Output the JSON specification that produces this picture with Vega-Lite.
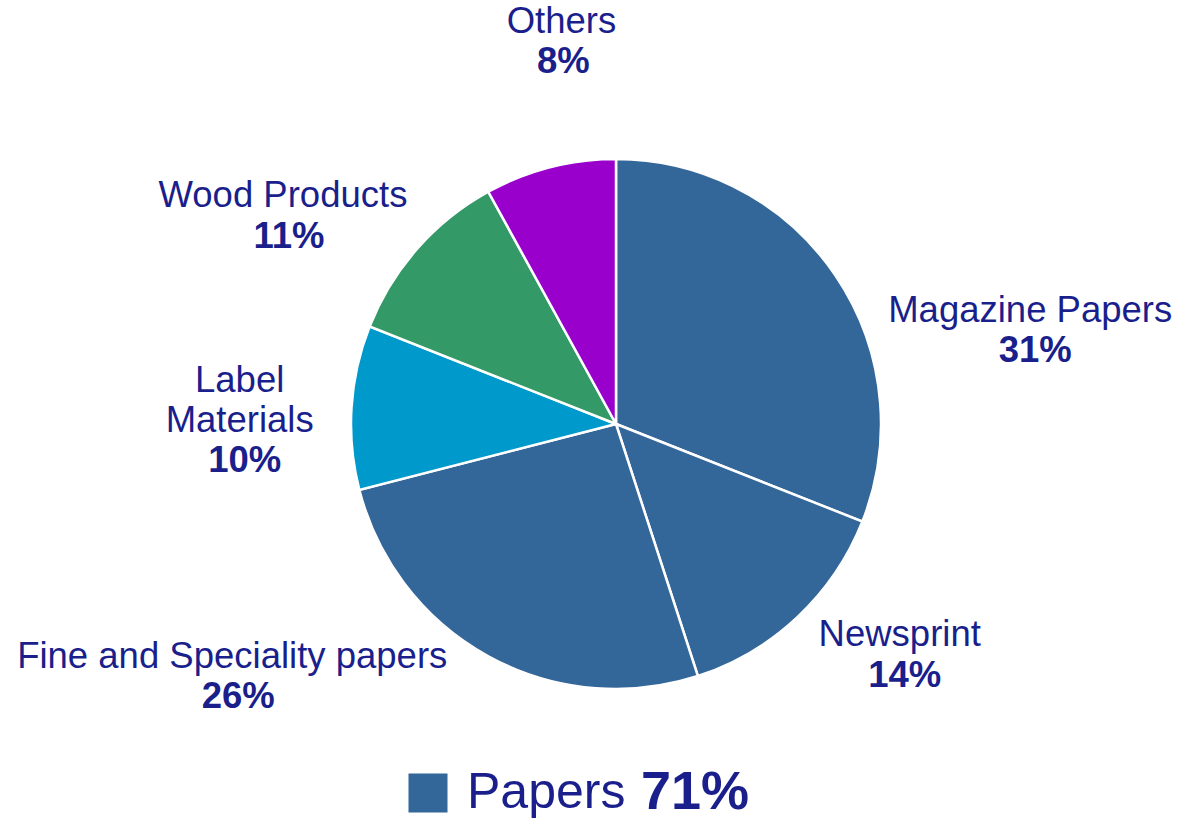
{
  "$schema": "https://vega.github.io/schema/vega-lite/v6.json",
  "width": 1150,
  "height": 794,
  "padding": {"left": 41, "top": 27, "right": 0, "bottom": 0},
  "autosize": {"type": "none"},
  "background": "white",
  "data": {
    "values": [
      {"cat": "Magazine Papers", "group": "Papers", "share": 0.31, "rank": 1},
      {"cat": "Newsprint", "group": "Papers", "share": 0.14, "rank": 2},
      {"cat": "Fine and Speciality papers", "group": "Papers", "share": 0.26, "rank": 3},
      {"cat": "Label Materials", "group": "Label Materials", "share": 0.10, "rank": 4},
      {"cat": "Wood Products", "group": "Wood Products", "share": 0.11, "rank": 5},
      {"cat": "Others", "group": "Others", "share": 0.08, "rank": 6}
    ]
  },
  "encoding": {
    "theta": {"field": "share", "type": "quantitative", "stack": true},
    "order": {"field": "rank", "type": "quantitative"}
  },
  "layer": [
    {
      "mark": {"type": "arc", "outerRadius": 265, "stroke": "white", "strokeWidth": 2.5},
      "encoding": {
        "color": {
          "field": "group",
          "type": "nominal",
          "scale": {"domain": ["Papers", "Label Materials", "Wood Products", "Others"], "range": ["#336699", "#0099cc", "#339966", "#9900cc"]},
          "legend": {
            "values": ["Papers"],
            "orient": "none",
            "legendX": 362,
            "legendY": 741,
            "title": "71%",
            "titleOrient": "right",
            "titleFontSize": 54,
            "titleFontWeight": "bold",
            "titleColor": "#1a1f8c",
            "titleFont": "Liberation Sans",
            "titlePadding": 16,
            "titleBaseline": "middle",
            "labelFontSize": 50,
            "labelFont": "Liberation Sans",
            "labelColor": "#1a1f8c",
            "labelOffset": 14,
            "labelLimit": 400,
            "symbolType": "square",
            "symbolSize": 1521,
            "symbolStrokeWidth": 0,
            "symbolOpacity": 1
          }
        },
        "detail": {"field": "cat"}
      }
    },
    {
      "mark": {"type": "text", "radius": 340, "dx": 133, "dy": 78},
      "encoding": {"detail": {"field": "cat"}, "text": {"condition": {"test": "datum.cat === 'Magazine Papers'", "field": "cat"}, "value": ""}}
    },
    {
      "mark": {"type": "text", "radius": 340, "dx": 138, "dy": 118, "fontWeight": "bold"},
      "encoding": {"detail": {"field": "cat"}, "text": {"condition": {"test": "datum.cat === 'Magazine Papers'", "field": "share", "type": "quantitative", "format": ".0%"}, "value": ""}}
    },
    {
      "mark": {"type": "text", "radius": 340, "dx": 51, "dy": -37},
      "encoding": {"detail": {"field": "cat"}, "text": {"condition": {"test": "datum.cat === 'Newsprint'", "field": "cat"}, "value": ""}}
    },
    {
      "mark": {"type": "text", "radius": 340, "dx": 56, "dy": 4, "fontWeight": "bold"},
      "encoding": {"detail": {"field": "cat"}, "text": {"condition": {"test": "datum.cat === 'Newsprint'", "field": "share", "type": "quantitative", "format": ".0%"}, "value": ""}}
    },
    {
      "mark": {"type": "text", "radius": 340, "dx": -220, "dy": -65},
      "encoding": {"detail": {"field": "cat"}, "text": {"condition": {"test": "datum.cat === 'Fine and Speciality papers'", "field": "cat"}, "value": ""}}
    },
    {
      "mark": {"type": "text", "radius": 340, "dx": -214, "dy": -25, "fontWeight": "bold"},
      "encoding": {"detail": {"field": "cat"}, "text": {"condition": {"test": "datum.cat === 'Fine and Speciality papers'", "field": "share", "type": "quantitative", "format": ".0%"}, "value": ""}}
    },
    {
      "mark": {"type": "text", "radius": 340, "dx": -37, "dy": -22, "lineBreak": " ", "lineHeight": 40},
      "encoding": {"detail": {"field": "cat"}, "text": {"condition": {"test": "datum.cat === 'Label Materials'", "field": "cat"}, "value": ""}}
    },
    {
      "mark": {"type": "text", "radius": 340, "dx": -32, "dy": 58, "fontWeight": "bold"},
      "encoding": {"detail": {"field": "cat"}, "text": {"condition": {"test": "datum.cat === 'Label Materials'", "field": "share", "type": "quantitative", "format": ".0%"}, "value": ""}}
    },
    {
      "mark": {"type": "text", "radius": 340, "dx": -78, "dy": -3},
      "encoding": {"detail": {"field": "cat"}, "text": {"condition": {"test": "datum.cat === 'Wood Products'", "field": "cat"}, "value": ""}}
    },
    {
      "mark": {"type": "text", "radius": 340, "dx": -72, "dy": 38, "fontWeight": "bold"},
      "encoding": {"detail": {"field": "cat"}, "text": {"condition": {"test": "datum.cat === 'Wood Products'", "field": "share", "type": "quantitative", "format": ".0%"}, "value": ""}}
    },
    {
      "mark": {"type": "text", "radius": 340, "dx": 30, "dy": -73},
      "encoding": {"detail": {"field": "cat"}, "text": {"condition": {"test": "datum.cat === 'Others'", "field": "cat"}, "value": ""}}
    },
    {
      "mark": {"type": "text", "radius": 340, "dx": 32, "dy": -33, "fontWeight": "bold"},
      "encoding": {"detail": {"field": "cat"}, "text": {"condition": {"test": "datum.cat === 'Others'", "field": "share", "type": "quantitative", "format": ".0%"}, "value": ""}}
    }
  ],
  "config": {
    "view": {"stroke": null},
    "text": {"font": "Liberation Sans", "fontSize": 36.5, "fill": "#1a1f8c", "align": "center", "baseline": "middle"}
  }
}
